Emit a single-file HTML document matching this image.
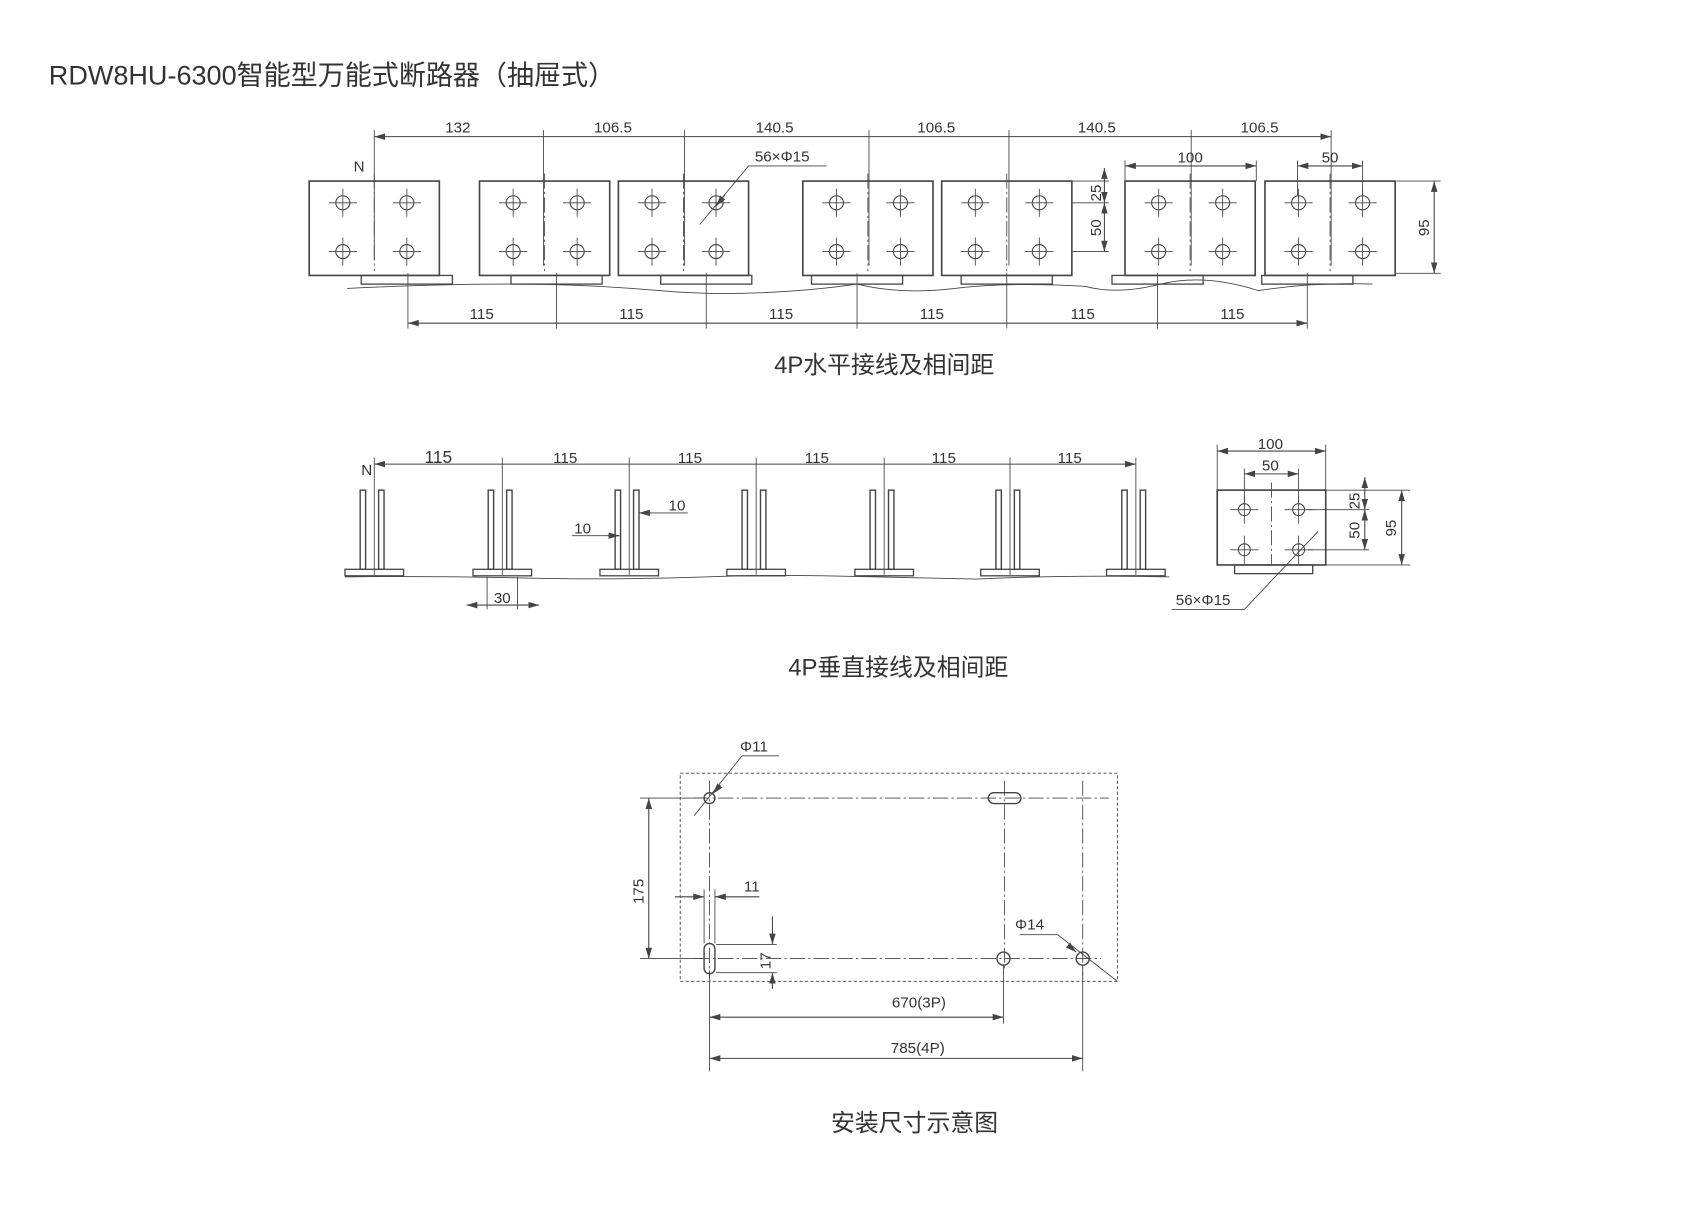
<!DOCTYPE html>
<html><head><meta charset="utf-8"><style>
html,body{margin:0;padding:0;background:#fff;}
svg{display:block}
text{font-family:"Liberation Sans Narrow","Liberation Sans","Noto Sans CJK SC",sans-serif;fill:#333;}
.cj{font-family:"Liberation Sans","Noto Sans CJK SC",sans-serif;}
</style></head><body>
<svg id="s" width="1700" height="1208" viewBox="0 0 1567 1114" preserveAspectRatio="none" xmlns="http://www.w3.org/2000/svg">
<defs>
<marker id="a" viewBox="0 0 10 6" refX="10" refY="3" markerWidth="10" markerHeight="6" markerUnits="userSpaceOnUse" orient="auto-start-reverse"><path d="M0,0 L10,3 L0,6 z" fill="#444"/></marker>
</defs>
<g id="g" stroke="#444" stroke-width="1" fill="none"></g>
<text x="45" y="78" font-size="25" class="cj" textLength="522" lengthAdjust="spacingAndGlyphs">RDW8HU-6300智能型万能式断路器（抽屉式）</text>
<g font-size="14" text-anchor="middle">
<text x="422" y="122">132</text><text x="565" y="122">106.5</text><text x="714" y="122">140.5</text><text x="863" y="122">106.5</text><text x="1011" y="122">140.5</text><text x="1161" y="122">106.5</text>
<text x="1097" y="150">100</text><text x="1226" y="150">50</text>
<text x="331" y="158">N</text>
<text x="721" y="149">56×Φ15</text>
<text x="444" y="294">115</text><text x="582" y="294">115</text><text x="720" y="294">115</text><text x="859" y="294">115</text><text x="998" y="294">115</text><text x="1136" y="294">115</text>
<text transform="translate(1015,178) rotate(-90)">25</text>
<text transform="translate(1015,210) rotate(-90)">50</text>
<text transform="translate(1317,210) rotate(-90)">95</text>
<text x="404" y="427" font-size="16">115</text><text x="521" y="427">115</text><text x="636" y="427">115</text><text x="753" y="427">115</text><text x="870" y="427">115</text><text x="986" y="427">115</text>
<text x="338" y="438">N</text>
<text x="624" y="471">10</text><text x="537" y="492">10</text><text x="463" y="556">30</text>
<text x="1171" y="414">100</text><text x="1171" y="434">50</text>
<text transform="translate(1253,462) rotate(-90)">25</text>
<text transform="translate(1253,489) rotate(-90)">50</text>
<text transform="translate(1287,487) rotate(-90)">95</text>
<text x="1109" y="558">56×Φ15</text>
<text x="695" y="693">Φ11</text><text x="693" y="822">11</text>
<text x="949" y="857">Φ14</text>
<text transform="translate(593,822) rotate(-90)">175</text>
<text transform="translate(710,886) rotate(-90)">17</text>
<text x="847" y="929">670(3P)</text><text x="846" y="971">785(4P)</text>
</g>
<g font-size="22" text-anchor="middle" class="cj">
<text x="815" y="344" class="cj">4P水平接线及相间距</text>
<text x="828" y="623" class="cj">4P垂直接线及相间距</text>
<text x="843" y="1043" class="cj">安装尺寸示意图</text>
</g>
</svg>
<script>
var g=document.getElementById('g'),NS='http://www.w3.org/2000/svg';
function el(t,a){var e=document.createElementNS(NS,t);for(var k in a)e.setAttribute(k,a[k]);g.appendChild(e);return e;}
function L(x1,y1,x2,y2,o){var a={x1:x1,y1:y1,x2:x2,y2:y2};for(var k in o||{})a[k]=o[k];return el('line',a);}
function D(x1,y1,x2,y2){return L(x1,y1,x2,y2,{'marker-start':'url(#a)','marker-end':'url(#a)'});}
function DA(x1,y1,x2,y2){return L(x1,y1,x2,y2,{'stroke-dasharray':'14 3 2 3','stroke-width':0.8});}
function hole(x,y,r){el('circle',{cx:x,cy:y,r:r||6.5});L(x-13,y,x+13,y,{'stroke-width':0.8});L(x,y-13,x,y+13,{'stroke-width':0.8});}
var ex=[345,501,631,801,930,1098,1227];
D(345,126,1227,126);ex.forEach(function(x){L(x,120,x,x==345?240:245,{'stroke-width':0.8});});
var plates=[285,442,570,740,868,1037,1166],feet=[375,513,651,790,928,1067,1205];
plates.forEach(function(x,i){
 el('rect',{x:x,y:167,width:120,height:87,'stroke-width':1.5});
 var f=feet[i];el('rect',{x:f-42,y:254,width:84,height:8,'stroke-width':1.2});
 hole(x+31,187);hole(x+90,187);hole(x+31,232);hole(x+90,232);
 DA(x+60,160,x+60,250);
});
el('path',{d:'M320,266 Q400,262 470,262 T608,268 Q650,272 700,270 T790,262 Q830,272 880,266 T1000,264 Q1030,272 1070,262 T1160,268 Q1210,260 1265,262','stroke-width':0.8});
var bx=[376,513,651,790,928,1067,1205];
D(376,298,1205,298);bx.forEach(function(x){L(x,252,x,303,{'stroke-width':0.8});});
D(1018,155,1018,187);D(1018,187,1018,232);L(988,187,1022,187,{'stroke-width':0.8});L(988,232,1022,232,{'stroke-width':0.8});L(988,167,1022,167,{'stroke-width':0.8});
D(1322,167,1322,252);L(1287,167,1328,167,{'stroke-width':0.8});L(1287,252,1328,252,{'stroke-width':0.8});
D(1037,153,1158,153);L(1037,148,1037,167,{'stroke-width':0.8});L(1158,148,1158,167,{'stroke-width':0.8});
D(1196,153,1256,153);L(1196,148,1196,180,{'stroke-width':0.8});L(1256,148,1256,180,{'stroke-width':0.8});
L(690,153,762,153,{'stroke-width':0.8});L(690,153,645,207,{'stroke-width':0.8});L(668,180,660,190,{'marker-end':'url(#a)'});
var px=[345,463,580,697,815,931,1047];
D(345,428,1047,428);px.forEach(function(x){L(x,422,x,530,{'stroke-width':0.8});
 el('rect',{x:x-13,y:452,width:5,height:73,'stroke-width':1.3});el('rect',{x:x+4,y:452,width:5,height:73,'stroke-width':1.3});
 el('rect',{x:x-27,y:525,width:54,height:6,'stroke-width':1.2});});
el('path',{d:'M318,532 Q400,531 480,533 T650,532 Q700,530 760,531 T900,534 Q980,530 1078,532','stroke-width':0.8});
L(589,473,634,473,{'stroke-width':0.8});L(600,473,589,473,{'marker-end':'url(#a)'});
L(527,494,571,494,{'stroke-width':0.8});L(560,494,571,494,{'marker-end':'url(#a)'});
D(430,558,497,558);L(449,532,449,562,{'stroke-width':0.8});L(477,532,477,562,{'stroke-width':0.8});
el('rect',{x:1122,y:452,width:100,height:69,'stroke-width':1.5});el('rect',{x:1138,y:521,width:72,height:8,'stroke-width':1.2});
hole(1147,470,5.5);hole(1197,470,5.5);hole(1147,507,5.5);hole(1197,507,5.5);DA(1172,445,1172,520);
D(1122,416,1222,416);L(1122,410,1122,452,{'stroke-width':0.8});L(1222,410,1222,452,{'stroke-width':0.8});
D(1147,437,1197,437);L(1147,432,1147,465,{'stroke-width':0.8});L(1197,432,1197,465,{'stroke-width':0.8});
D(1258,440,1258,470);D(1258,470,1258,507);L(1205,470,1262,470,{'stroke-width':0.8});L(1205,507,1262,507,{'stroke-width':0.8});L(1222,452,1300,452,{'stroke-width':0.8});L(1222,521,1300,521,{'stroke-width':0.8});
D(1292,452,1292,521);
L(1080,562,1147,562,{'stroke-width':0.8});L(1147,562,1215,490,{'stroke-width':0.8});
el('rect',{x:627,y:713,width:403,height:192,'stroke-dasharray':'3 2','stroke-width':0.8});
DA(640,736,1022,736);DA(640,884,1015,884);DA(654,720,654,900);DA(926,720,926,895);DA(998,720,998,900);
el('circle',{cx:654,cy:736,r:5,'stroke-width':1.3});
el('rect',{x:911,y:731,width:30,height:10,rx:5,'stroke-width':1.3});
el('rect',{x:649,y:870,width:10,height:28,rx:5,'stroke-width':1.3});
el('circle',{cx:925,cy:884,r:6,'stroke-width':1.3});el('circle',{cx:998,cy:884,r:6,'stroke-width':1.3});
D(598,736,598,884);L(590,736,650,736,{'stroke-width':0.8});L(590,884,650,884,{'stroke-width':0.8});
L(622,827,649,827,{'marker-end':'url(#a)'});L(700,827,659,827,{'marker-end':'url(#a)'});L(649,820,649,870,{'stroke-width':0.8});L(659,820,659,870,{'stroke-width':0.8});
L(712,845,712,871,{'marker-end':'url(#a)'});L(712,912,712,897,{'marker-end':'url(#a)'});L(660,871,716,871,{'stroke-width':0.8});L(660,897,716,897,{'stroke-width':0.8});
L(684,697,718,697,{'stroke-width':0.8});L(684,697,640,752,{'stroke-width':0.8});L(664,724,657,732,{'marker-end':'url(#a)'});
L(940,862,975,862,{'stroke-width':0.8});L(975,862,1030,905,{'stroke-width':0.8});L(985,872,992,878,{'marker-end':'url(#a)'});
D(654,938,925,938);D(654,976,998,976);L(654,895,654,988,{'stroke-width':0.8});L(925,890,925,944,{'stroke-width':0.8});L(998,890,998,988,{'stroke-width':0.8});
</script>
</body></html>
